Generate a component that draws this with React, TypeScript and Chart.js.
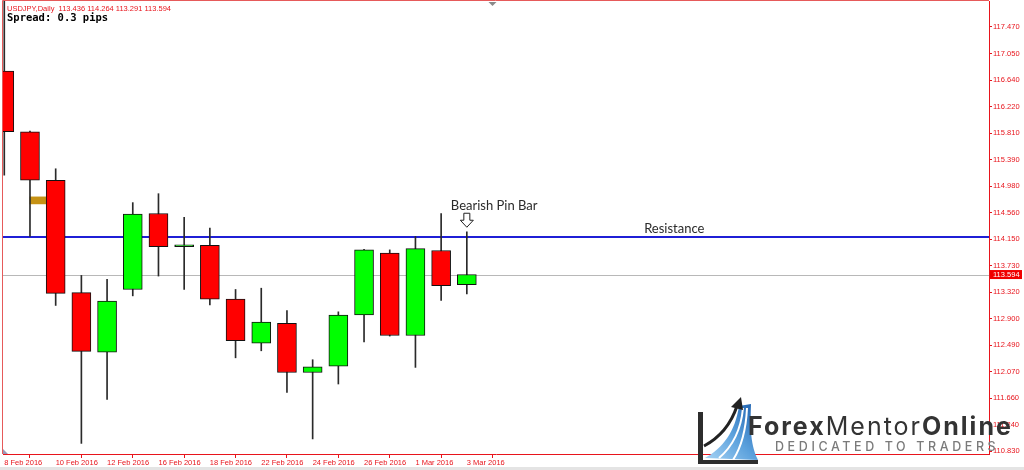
import React, { useEffect, useRef } from 'react';
import { Chart, registerables } from 'chart.js';

Chart.register(...registerables);

// ---------------- data ----------------
const SYMBOL = 'USDJPY';
const TIMEFRAME = 'Daily';
const SPREAD_TEXT = 'Spread: 0.3 pips';

const DATES = [
  '8 Feb 2016', '9 Feb 2016', '10 Feb 2016', '11 Feb 2016', '12 Feb 2016',
  '15 Feb 2016', '16 Feb 2016', '17 Feb 2016', '18 Feb 2016', '19 Feb 2016',
  '22 Feb 2016', '23 Feb 2016', '24 Feb 2016', '25 Feb 2016', '26 Feb 2016',
  '29 Feb 2016', '1 Mar 2016', '2 Mar 2016', '3 Mar 2016',
];
const OPEN = [116.78, 115.83, 115.07, 113.31, 112.38, 113.36, 114.55, 114.03, 114.05, 113.21,
  112.52, 112.83, 112.06, 112.16, 112.96, 113.93, 112.64, 113.97, 113.436];
const HIGH = [117.95, 115.84, 115.25, 113.58, 113.52, 114.72, 114.86, 114.49, 114.32, 113.36,
  113.38, 113.03, 112.26, 113.01, 113.99, 113.98, 114.19, 114.55, 114.264];
const LOW = [115.15, 114.19, 113.11, 110.95, 111.64, 113.26, 113.57, 113.36, 113.12, 112.29,
  112.40, 111.75, 111.02, 111.88, 112.54, 112.63, 112.14, 113.19, 113.291];
const CLOSE = [115.83, 115.07, 113.30, 112.39, 113.18, 114.54, 114.03, 114.06, 113.21, 112.56,
  112.85, 112.06, 112.15, 112.96, 113.98, 112.64, 114.00, 113.42, 113.594];

const X_TICK_INDEX = [0, 2, 4, 6, 8, 10, 12, 14, 16, 18];
const Y_TICKS = [110.83, 111.24, 111.66, 112.07, 112.49, 112.90, 113.32, 113.73, 114.15,
  114.56, 114.98, 115.39, 115.81, 116.22, 116.64, 117.05, 117.47];

const RESISTANCE = 114.18;
const RESISTANCE_LABEL = 'Resistance';
const RESISTANCE_LABEL_AT = 24.9;
const PIN_BAR_INDEX = 18;
const PIN_BAR_LABEL = 'Bearish Pin Bar';
const MARKER_INDEX = 1.5;
const MARKER_RANGE = [114.70, 114.81];

const X_MIN = -0.05;
const X_MAX = 38.32;
const Y_MIN = 110.784;
const Y_MAX = 117.877;

// ---------------- styles ----------------
const RED = '#e8141c';
const AXIS_FONT = '"Liberation Sans", Arial, sans-serif';

const overlayPlugin = {
  id: 'overlay',
  beforeDatasetsDraw(chart: any) {
    const { ctx, chartArea: a, scales } = chart;
    const y = scales.y;
    ctx.save();
    ctx.beginPath();
    ctx.rect(a.left, a.top, a.right - a.left, a.bottom - a.top);
    ctx.clip();
    const last = CLOSE[CLOSE.length - 1];
    const yl = Math.round(y.getPixelForValue(last)) + 0.5;
    ctx.strokeStyle = '#b8b8b8';
    ctx.lineWidth = 1;
    ctx.beginPath();
    ctx.moveTo(a.left, yl);
    ctx.lineTo(a.right, yl);
    ctx.stroke();
    const yr = Math.round(y.getPixelForValue(RESISTANCE));
    ctx.strokeStyle = '#1f1fd6';
    ctx.lineWidth = 2;
    ctx.beginPath();
    ctx.moveTo(a.left, yr);
    ctx.lineTo(a.right, yr);
    ctx.stroke();
    ctx.restore();
  },
  afterDraw(chart: any) {
    const { ctx, chartArea: a, scales } = chart;
    const x = scales.x;
    const y = scales.y;
    ctx.save();

    // top & left borders
    ctx.strokeStyle = '#e65a5a';
    ctx.lineWidth = 1;
    ctx.beginPath();
    ctx.moveTo(a.left - 0.5, a.bottom);
    ctx.lineTo(a.left - 0.5, a.top - 0.5);
    ctx.lineTo(a.right, a.top - 0.5);
    ctx.stroke();

    // header
    const n = CLOSE.length - 1;
    ctx.font = `7.5px ${AXIS_FONT}`;
    ctx.fillStyle = RED;
    ctx.textAlign = 'left';
    ctx.textBaseline = 'alphabetic';
    ctx.fillText(
      `${SYMBOL},${TIMEFRAME}  ${OPEN[n].toFixed(3)} ${HIGH[n].toFixed(3)} ${LOW[n].toFixed(3)} ${CLOSE[n].toFixed(3)}`,
      7, 10.5,
    );
    ctx.font = 'bold 10.5px "DejaVu Sans Mono", monospace';
    ctx.fillStyle = '#000';
    ctx.fillText(SPREAD_TEXT, 7, 21);

    // chart shift marker
    const sx = x.getPixelForValue(CLOSE.length);
    ctx.fillStyle = '#8a8a8a';
    ctx.beginPath();
    ctx.moveTo(sx - 4, a.top + 1);
    ctx.lineTo(sx + 4, a.top + 1);
    ctx.lineTo(sx, a.top + 5);
    ctx.closePath();
    ctx.fill();

    // bottom-left corner marker
    ctx.fillStyle = '#9a9ab8';
    ctx.beginPath();
    ctx.moveTo(a.left, a.bottom - 5);
    ctx.lineTo(a.left, a.bottom);
    ctx.lineTo(a.left + 5, a.bottom);
    ctx.closePath();
    ctx.fill();

    // pin bar annotation
    const px = x.getPixelForValue(PIN_BAR_INDEX);
    const hy = y.getPixelForValue(HIGH[PIN_BAR_INDEX]);
    const tip = hy - 4.5;
    const headTop = tip - 7;
    const shaftTop = tip - 14;
    ctx.beginPath();
    ctx.moveTo(px - 3, shaftTop);
    ctx.lineTo(px + 3, shaftTop);
    ctx.lineTo(px + 3, headTop);
    ctx.lineTo(px + 6.5, headTop);
    ctx.lineTo(px, tip);
    ctx.lineTo(px - 6.5, headTop);
    ctx.lineTo(px - 3, headTop);
    ctx.closePath();
    ctx.fillStyle = '#fff';
    ctx.fill();
    ctx.strokeStyle = '#222';
    ctx.lineWidth = 1;
    ctx.stroke();

    ctx.font = '13px Lato, "Open Sans", sans-serif';
    ctx.fillStyle = '#2b2b2b';
    ctx.textAlign = 'left';
    ctx.fillText(PIN_BAR_LABEL, px - 16, shaftTop - 3);

    // resistance label
    const rx = x.getPixelForValue(RESISTANCE_LABEL_AT);
    const ry = y.getPixelForValue(RESISTANCE);
    ctx.fillText(RESISTANCE_LABEL, rx, ry - 4.5);

    // current price box
    const cy = y.getPixelForValue(CLOSE[n]);
    ctx.fillStyle = '#f00000';
    ctx.fillRect(a.right + 1, cy - 4.5, 32, 9);
    ctx.fillStyle = '#fff';
    ctx.font = `7.5px ${AXIS_FONT}`;
    ctx.textBaseline = 'middle';
    ctx.fillText(CLOSE[n].toFixed(3), a.right + 4, cy + 0.5);

    // frame line at very bottom
    ctx.fillStyle = '#e4e4e4';
    ctx.fillRect(0, 467, chart.width, 3);

    ctx.restore();
  },
};

export default function App() {
  const ref = useRef<HTMLCanvasElement>(null);

  useEffect(() => {
    const idx = DATES.map((_, i) => i);
    const chart = new Chart(ref.current as HTMLCanvasElement, {
      type: 'bar',
      data: {
        datasets: [
          {
            label: 'marker',
            data: [{ x: MARKER_INDEX, y: MARKER_RANGE }] as any,
            backgroundColor: '#c69214',
            borderWidth: 0,
            barThickness: 26,
            grouped: false,
            order: 3,
          } as any,
          {
            label: 'wicks',
            data: idx.map((i) => ({ x: i, y: [LOW[i], HIGH[i]] })) as any,
            backgroundColor: '#2a2a2a',
            borderWidth: 0,
            barThickness: 1,
            grouped: false,
            order: 2,
          } as any,
          {
            label: 'bodies',
            data: idx.map((i) => ({ x: i, y: [OPEN[i], CLOSE[i]] })) as any,
            backgroundColor: idx.map((i) => (CLOSE[i] >= OPEN[i] ? '#00ff00' : '#ff0000')),
            borderColor: '#111',
            borderWidth: 1,
            borderSkipped: false,
            barThickness: 19,
            grouped: false,
            order: 1,
          } as any,
        ],
      },
      options: {
        animation: false,
        responsive: false,
        maintainAspectRatio: false,
        devicePixelRatio: 1,
        layout: { padding: { left: 3, top: 1, right: 0, bottom: 0 } },
        plugins: {
          legend: { display: false },
          tooltip: { enabled: false },
          title: { display: false },
        },
        scales: {
          x: {
            type: 'linear',
            min: X_MIN,
            max: X_MAX,
            offset: false,
            position: 'bottom',
            grid: { drawOnChartArea: false, drawTicks: true, tickLength: 4, color: RED, lineWidth: 1 },
            border: { display: true, color: RED, width: 1 },
            ticks: {
              autoSkip: false,
              maxRotation: 0,
              minRotation: 0,
              align: 'start',
              padding: 0,
              color: RED,
              font: { size: 7.5, family: AXIS_FONT },
              callback: (v: any) => DATES[Number(v)] ?? '',
            },
            afterBuildTicks: (s: any) => {
              s.ticks = X_TICK_INDEX.map((v) => ({ value: v }));
            },
            afterFit: (s: any) => {
              s.height = 16;
              s.paddingLeft = 0;
              s.paddingRight = 0;
            },
          } as any,
          y: {
            type: 'linear',
            position: 'right',
            min: Y_MIN,
            max: Y_MAX,
            grid: { drawOnChartArea: false, drawTicks: true, tickLength: 3, color: RED, lineWidth: 1 },
            border: { display: true, color: RED, width: 1 },
            ticks: {
              autoSkip: false,
              padding: 1,
              color: RED,
              font: { size: 7.5, family: AXIS_FONT },
              callback: (v: any) => Number(v).toFixed(3),
            },
            afterBuildTicks: (s: any) => {
              s.ticks = Y_TICKS.map((v) => ({ value: v }));
            },
            afterFit: (s: any) => {
              s.width = 35;
              s.paddingTop = 0;
              s.paddingBottom = 0;
            },
          } as any,
        },
      },
      plugins: [overlayPlugin],
    });
    return () => chart.destroy();
  }, []);

  return (
    <div style={{ position: 'absolute', left: 0, top: 0, width: 1024, height: 470, background: '#fff', overflow: 'hidden' }}>
      <canvas ref={ref} width={1024} height={470} style={{ display: 'block', width: 1024, height: 470 }} />
      <svg width="66" height="74" viewBox="0 0 66 74" style={{ position: 'absolute', left: 695, top: 394 }}>
        <defs>
          <linearGradient id="swoosh" x1="0" y1="1" x2="1" y2="0">
            <stop offset="0" stopColor="#a8d4f5" />
            <stop offset="0.5" stopColor="#5aa0dc" />
            <stop offset="1" stopColor="#1c5fae" />
          </linearGradient>
        </defs>
        <path d="M10 64 C 28 54, 40 38, 44 12 L 56 10 C 55 36, 56 52, 63 66 Z" fill="url(#swoosh)" />
        <path d="M24 64 C 38 52, 46 36, 48 14" stroke="#fff" strokeWidth="2" fill="none" />
        <path d="M38 66 C 47 52, 51 36, 52 14" stroke="#fff" strokeWidth="2" fill="none" />
        <rect x="3" y="18" width="5" height="52" fill="#2d2d2d" />
        <rect x="3" y="66" width="60" height="4" fill="#2d2d2d" />
        <path d="M9 52 C 24 44, 36 30, 42 12" stroke="#222" strokeWidth="3" fill="none" />
        <path d="M36 13 L 46 3 L 48 16 Z" fill="#222" />
      </svg>
      <div
        style={{
          position: 'absolute', left: 748, top: 414, font: '700 25px Inter, sans-serif', color: '#333',
          letterSpacing: '2px', whiteSpace: 'nowrap', lineHeight: 1,
        }}
      >
        <span>Forex</span>
        <span style={{ fontWeight: 400 }}>Mentor</span>
        <span>Online</span>
      </div>
      <div
        style={{
          position: 'absolute', left: 775, top: 441, font: '500 12.5px Inter, sans-serif', color: '#7a7a7a',
          letterSpacing: '3.6px', whiteSpace: 'nowrap', lineHeight: 1,
        }}
      >
        DEDICATED TO TRADERS
      </div>
    </div>
  );
}
